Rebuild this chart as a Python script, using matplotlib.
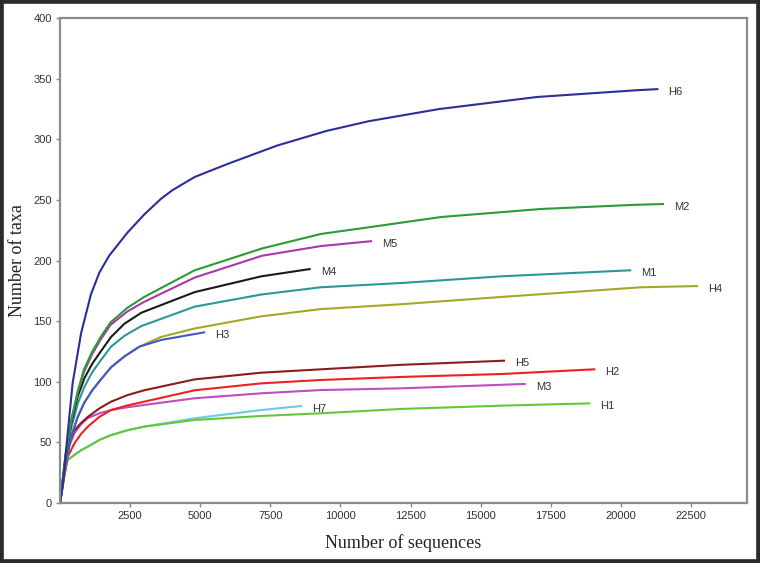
import matplotlib
matplotlib.use('Agg')
import matplotlib.pyplot as plt
from matplotlib.patches import Rectangle

# rarefaction curves (sequences, taxa)
h6_x = [0, 100, 275, 450, 750, 1100, 1400, 1750, 2400, 3000, 3600, 4000, 4800, 6000, 7750, 9500, 11000, 13500, 17000, 20500, 21300]
h6_y = [0, 16, 58, 99, 140, 172, 190, 204, 223, 238, 251, 258, 269, 280, 295, 307, 315, 325, 335, 340.5, 341.5]

m2_x = [0, 200, 400, 630, 850, 1150, 1450, 1800, 2400, 3000, 4800, 7200, 9300, 10700, 13600, 17150, 20450, 21500]
m2_y = [0, 40, 68, 92, 110, 125, 137, 149, 161, 170, 192, 210, 222, 226.5, 236, 242.6, 246, 246.7]

m5_x = [0, 200, 400, 630, 850, 1150, 1450, 1800, 2400, 3000, 4800, 7200, 9300, 11090]
m5_y = [0, 40, 68, 91, 108, 123, 135, 147, 158, 166, 186, 204, 212, 216]

m4_x = [0, 200, 400, 630, 870, 1150, 1450, 1820, 2300, 2900, 4800, 7170, 8900]
m4_y = [0, 38, 66, 88, 103, 115, 125, 137, 148, 157, 174, 187, 193]

m1_x = [0, 200, 400, 630, 870, 1150, 1460, 1820, 2300, 2900, 4800, 7170, 9300, 12160, 15700, 20330]
m1_y = [0, 36, 62, 82, 96, 108, 118, 129, 138, 146, 162, 172, 178, 181.5, 187, 192]

h4_x = [0, 200, 400, 630, 870, 1150, 1460, 1820, 2300, 2830, 3600, 4800, 7170, 9300, 12160, 15730, 20720, 22715]
h4_y = [0, 32, 55, 71, 83, 93, 102, 112, 121, 129, 137, 144, 154, 160, 164, 170, 178, 179]

h3_x = [0, 200, 400, 630, 870, 1150, 1460, 1820, 2300, 2830, 3600, 5140]
h3_y = [0, 32, 55, 71, 83, 93, 102, 112, 121, 129, 134.5, 140.8]

h5_x = [0, 270, 510, 750, 990, 1400, 1820, 2400, 3000, 4800, 7170, 9300, 12160, 15830]
h5_y = [0, 46, 60, 66, 71, 78, 83.6, 89, 93, 102, 107.5, 110.3, 114, 117.4]

h2_x = [0, 270, 510, 750, 990, 1400, 1820, 2400, 3000, 4800, 7170, 9300, 12160, 15730, 19050]
h2_y = [0, 38, 49, 57, 63, 71, 76.7, 80.5, 83.6, 93, 98.7, 101.5, 104, 106.4, 110.3]

m3_x = [0, 270, 510, 750, 990, 1400, 1820, 2400, 3000, 4800, 7170, 9300, 12160, 16570]
m3_y = [0, 43.7, 57.5, 65, 70, 74, 76.7, 79, 80.9, 86.4, 90.5, 93.2, 94.6, 98.2]

h7_x = [0, 150, 270, 510, 750, 990, 1400, 1820, 2400, 3000, 4800, 7170, 8600]
h7_y = [0, 24.5, 35.5, 39.6, 43.5, 46.5, 52, 56, 60, 63, 69.9, 76.7, 80]

h1_x = [0, 150, 270, 510, 750, 990, 1400, 1820, 2400, 3000, 4800, 7170, 9300, 12160, 15730, 18870]
h1_y = [0, 24.5, 35.5, 39.6, 43.5, 46.5, 52, 56, 60, 63, 68.5, 71.8, 74, 77.6, 80.3, 82.2]

curves = [
    ('H7', h7_x, h7_y, '#6ccbe2'),
    ('H1', h1_x, h1_y, '#66c63a'),
    ('M3', m3_x, m3_y, '#c04cc0'),
    ('H2', h2_x, h2_y, '#ee2020'),
    ('H5', h5_x, h5_y, '#8a1c1c'),
    ('H4', h4_x, h4_y, '#a6a628'),
    ('H3', h3_x, h3_y, '#4656c8'),
    ('M1', m1_x, m1_y, '#2a9898'),
    ('M4', m4_x, m4_y, '#1a1a1a'),
    ('M5', m5_x, m5_y, '#a83aa8'),
    ('M2', m2_x, m2_y, '#2c9a36'),
    ('H6', h6_x, h6_y, '#2c2f98'),
]

fig = plt.figure(figsize=(7.6, 5.63), dpi=100)
ax = fig.add_axes([0.079, 0.1066, 0.904, 0.861])

for name, xs, ys, col in curves:
    ax.plot(xs, ys, color=col, lw=1.5, solid_joinstyle='round')
    ax.annotate(name, (xs[-1], ys[-1]), xytext=(8, -2), textcoords='offset points',
                ha='left', va='center', fontsize=8, color='#333333',
                family='Liberation Sans')

ax.set_xlim(0, 24500)
ax.set_ylim(0, 400)
ax.set_xticks([2500, 5000, 7500, 10000, 12500, 15000, 17500, 20000, 22500])
ax.set_yticks(range(0, 401, 50))
ax.tick_params(length=3, width=1, color='#888888', labelsize=8,
               labelcolor='#333333', pad=3)
for lab in ax.get_xticklabels() + ax.get_yticklabels():
    lab.set_family('Liberation Sans')
for s in ax.spines.values():
    s.set_color('#8c8c8c')
    s.set_linewidth(1.6)

ax.set_xlabel('Number of sequences', family='Liberation Serif', fontsize=13,
              color='#222222', labelpad=9)
ax.set_ylabel('Number of taxa', family='Liberation Serif', fontsize=13,
              color='#222222', labelpad=5)

# dark frame round the whole picture
fig.patches.append(Rectangle((0, 0), 1, 1, transform=fig.transFigure,
                             fill=False, ec='#2a2a2a', lw=5.5))

fig.savefig('out.png', dpi=100)
